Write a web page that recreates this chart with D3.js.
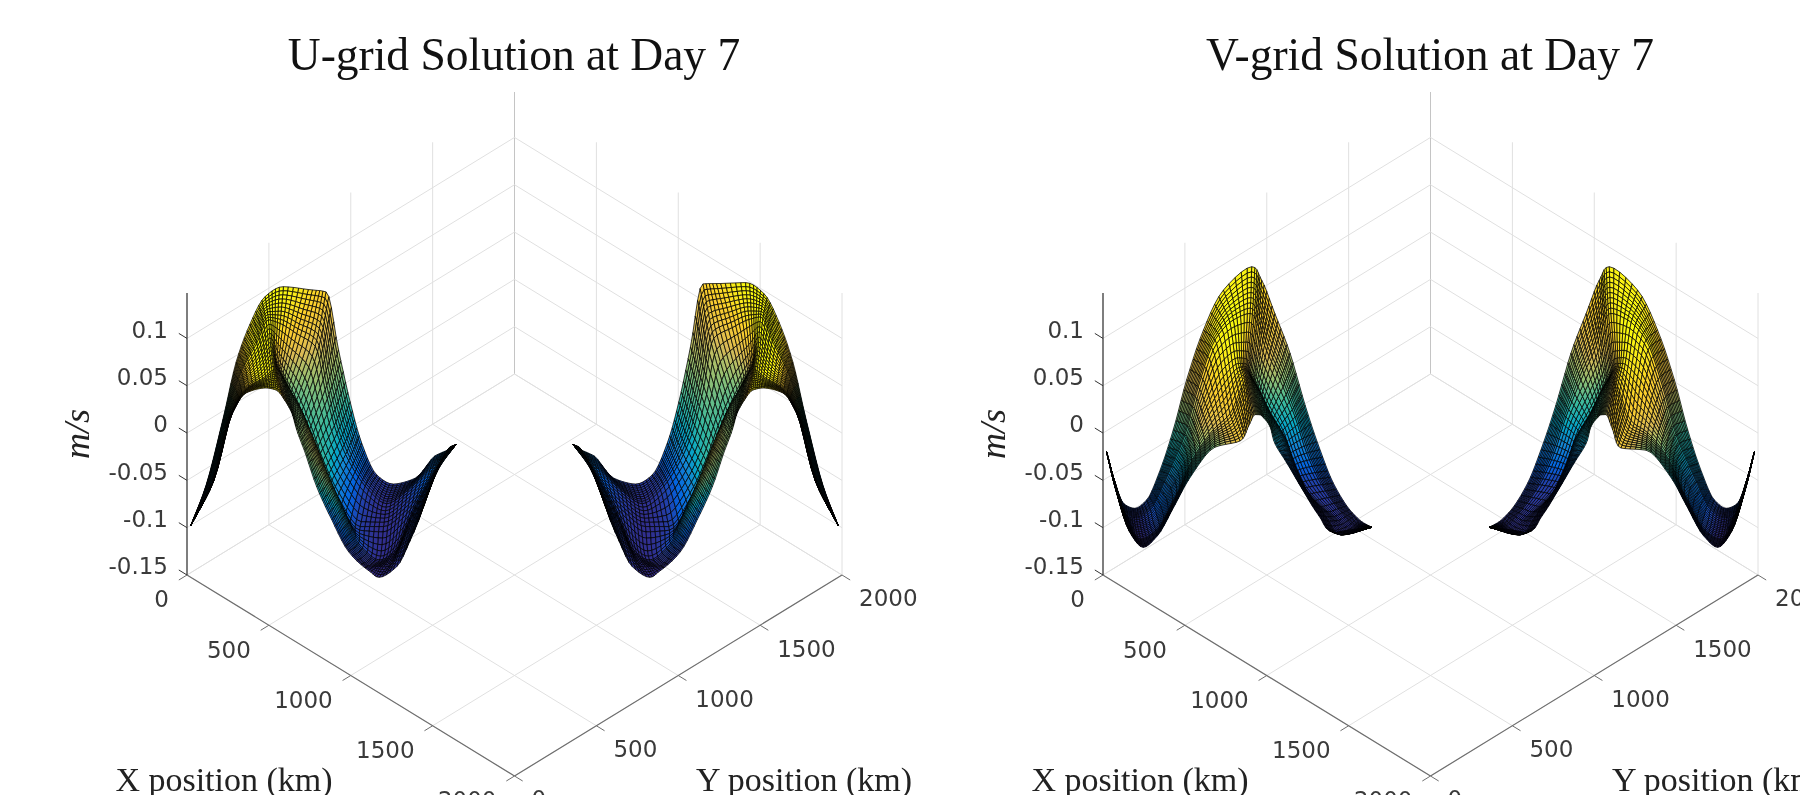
<!DOCTYPE html>
<html>
<head>
<meta charset="utf-8">
<script src="https://cdn.jsdelivr.net/npm/d3@7"></script>
<style>
  body { margin: 0; background: #fff; overflow: hidden; }
  svg { display: block; filter: blur(0.45px); }
</style>
</head>
<body>
<script>
// tick values and labels
var planTicks = [0, 500, 1000, 1500, 2000];
var zTicks = [-0.15, -0.1, -0.05, 0, 0.05, 0.1];
var zTickLabels = ["-0.15", "-0.1", "-0.05", "0", "0.05", "0.1"];
var zLimits = [-0.15, 0.148];
var titles = ["U-grid Solution at Day 7", "V-grid Solution at Day 7"];

// parula colour stops
var parula = ["#352a87", "#0363e1", "#1485d4", "#06a7c6", "#38b99e", "#92bf73", "#d9ba56", "#fcce2e", "#f9fb0e"];

// surface knots. rows run along the lobe, columns across it.
// along = x + y (km), across = x - y (km), z in m/s.
// The mesh between the knots is only a smooth rendering of them, the reference mesh is too fine to read cell by cell
var uAlong = [
  [23, 23, 23, 23, 23],
  [116, 131, 145, 157, 165],
  [218, 239, 253, 267, 279],
  [300, 334, 349, 357, 365],
  [385, 426, 446, 463, 477],
  [477, 497, 511, 528, 544],
  [589, 568, 548, 558, 600],
  [741, 670, 599, 619, 640],
  [849, 782, 670, 695, 670],
  [925, 843, 748, 772, 715],
  [996, 915, 823, 853, 792],
  [1067, 1006, 919, 945, 884],
  [1159, 1108, 1057, 1047, 986],
  [1261, 1220, 1200, 1175, 1108],
  [1393, 1352, 1322, 1271, 1175],
  [1515, 1485, 1444, 1352, 1281],
  [1586, 1566, 1525, 1475, 1383],
  [1607, 1597, 1576, 1556, 1536],
  [1643, 1643, 1643, 1643, 1643]
];
var uAcross = [
  [-10, -10, -10, -10, -10],
  [-54, -4, 42, 81, 121],
  [-279, -146, -16, 99, 125],
  [122, 362, 461, 528, 567],
  [168, 501, 700, 793, 861],
  [36, 269, 478, 682, 881],
  [-63, 106, 162, 13, 295],
  [-261, -20, -150, -101, 131],
  [-350, -167, -198, 42, 297],
  [-331, -157, -40, 677, 440],
  [-378, -231, 292, 812, 384],
  [-748, -572, -77, 443, -210],
  [-883, -734, -369, -90, -148],
  [-821, -671, -453, -121, -36],
  [-765, -705, -530, -207, 23],
  [-622, -596, -565, -369, -27],
  [-402, -419, -483, -509, -275],
  [-98, -122, -184, -246, -331],
  [-93, -93, -93, -93, -93]
];
var uZ = [
  [-0.099, -0.099, -0.099, -0.099, -0.099],
  [-0.061, -0.055, -0.049, -0.043, -0.037],
  [-0.016, -0.001, 0.014, 0.029, 0.035],
  [0.088, 0.103, 0.103, 0.103, 0.103],
  [0.133, 0.148, 0.148, 0.142, 0.139],
  [0.148, 0.148, 0.142, 0.139, 0.139],
  [0.148, 0.127, 0.094, 0.065, 0.065],
  [0.124, 0.103, 0.044, 0.035, 0.035],
  [0.112, 0.074, 0.014, 0.029, 0.035],
  [0.053, 0.029, -0.001, 0.065, 0.029],
  [-0.007, -0.025, -0.001, 0.044, -0.016],
  [-0.09, -0.096, -0.075, -0.031, -0.114],
  [-0.138, -0.138, -0.138, -0.126, -0.141],
  [-0.141, -0.146, -0.147, -0.147, -0.149],
  [-0.129, -0.135, -0.141, -0.146, -0.15],
  [-0.09, -0.102, -0.12, -0.138, -0.144],
  [-0.061, -0.07, -0.09, -0.114, -0.135],
  [-0.025, -0.031, -0.043, -0.055, -0.073],
  [-0.022, -0.022, -0.022, -0.022, -0.022]
];
// right lobes are close to mirror images of the left ones, these are the across offsets (km) read where they differ
var uRightTop = [0, 0, 0, 0, -20, -30, -40, -60, -80, -30, 0, 0, 0, 0, 0, 0, 0, 0, 0];
var uRightBottom = [0, 0, 0, 0, 0, 0, 0, 0, 0, 0, 0, 0, 0, 0, 0, 0, 0, 0, 0];

var vAlong = [
  [22, 22, 22, 22, 22],
  [67, 71, 73, 75, 79],
  [128, 134, 140, 148, 161],
  [195, 205, 216, 230, 246],
  [267, 291, 307, 324, 332],
  [348, 399, 440, 450, 440],
  [429, 501, 531, 541, 541],
  [511, 582, 633, 674, 684],
  [613, 684, 735, 776, 837],
  [735, 796, 826, 857, 887],
  [908, 898, 873, 887, 928],
  [969, 949, 908, 922, 959],
  [1050, 999, 949, 969, 983],
  [1142, 1081, 1010, 1030, 1020],
  [1234, 1173, 1091, 1111, 1050],
  [1325, 1244, 1152, 1173, 1122],
  [1407, 1335, 1234, 1254, 1213],
  [1508, 1458, 1407, 1366, 1315],
  [1580, 1549, 1508, 1458, 1407],
  [1641, 1641, 1641, 1641, 1641]
];
var vAcross = [
  [-48, -48, -48, -48, -48],
  [-503, -504, -506, -507, -502],
  [-482, -490, -468, -437, -375],
  [-551, -508, -436, -351, -275],
  [-522, -451, -363, -308, -276],
  [-203, -226, -243, -252, -276],
  [-40, 66, 266, 259, 184],
  [165, 315, 626, 577, 414],
  [31, 384, 608, 776, 992],
  [-114, 269, 560, 618, 909],
  [-318, 6, 83, 46, 372],
  [-353, -86, -155, -151, 92],
  [-219, -50, -331, -316, -16],
  [-298, -200, -339, -312, -73],
  [-429, -396, -472, -434, -328],
  [-683, -650, -667, -629, -550],
  [-744, -756, -750, -701, -694],
  [-563, -558, -524, -524, -541],
  [-475, -439, -403, -370, -403],
  [-390, -390, -390, -390, -390]
];
var vZ = [
  [-0.025, -0.025, -0.025, -0.025, -0.025],
  [-0.102, -0.105, -0.108, -0.111, -0.114],
  [-0.126, -0.135, -0.138, -0.141, -0.144],
  [-0.138, -0.144, -0.147, -0.149, -0.15],
  [-0.126, -0.129, -0.132, -0.135, -0.138],
  [-0.061, -0.067, -0.075, -0.09, -0.105],
  [-0.001, 0.005, 0.014, -0.001, -0.025],
  [0.074, 0.082, 0.094, 0.065, 0.029],
  [0.112, 0.139, 0.124, 0.103, 0.097],
  [0.139, 0.148, 0.133, 0.118, 0.103],
  [0.142, 0.127, 0.082, 0.065, 0.059],
  [0.124, 0.103, 0.047, 0.035, 0.029],
  [0.103, 0.082, 0.014, 0.005, 0.014],
  [0.053, 0.035, -0.01, -0.016, -0.001],
  [-0.016, -0.025, -0.049, -0.052, -0.046],
  [-0.09, -0.09, -0.099, -0.102, -0.09],
  [-0.132, -0.135, -0.138, -0.138, -0.132],
  [-0.141, -0.144, -0.144, -0.144, -0.144],
  [-0.144, -0.146, -0.147, -0.147, -0.147],
  [-0.141, -0.141, -0.141, -0.141, -0.141]
];
var vRightTop = [0, 0, 0, 0, 0, 0, 0, 0, 0, 0, 0, 0, 0, 0, 0, 0, 0, 0, 0, 0];
var vRightBottom = [0, 0, 0, 0, 0, 0, 0, 30, 70, 30, 0, 0, 0, 0, 0, 0, 0, 0, 0, 0];

var width = 1800;
var height = 795;
var panelShift = 916;

var svg = d3.select("body").append("svg").attr("width", width).attr("height", height);

// scales of the oblique view
var alongScale = d3.scaleLinear().domain([0, 4000]).range([187, 842]);
var acrossScale = d3.scaleLinear().domain([-2000, 2000]).range([374, 776]);
var zScale = d3.scaleLinear().domain(zLimits).range([0, -282]);
var colorScale = d3
  .scaleLinear()
  .domain(d3.range(parula.length).map((i) => zLimits[0] + ((zLimits[1] - zLimits[0]) * i) / (parula.length - 1)))
  .range(parula)
  .clamp(true);

function project(x, y, z) {
  return [alongScale(x + y), acrossScale(x - y) + zScale(z)];
}

// cubic hermite through a knot row, steps[k] pieces per interval
// monotone stops overshoot at corners, plain catmull-rom is used where that does not matter
function smoothRow(values, steps, monotone) {
  var n = values.length;
  var slope = d3.range(n).map((k) => {
    if (k === 0) return values[1] - values[0];
    if (k === n - 1) return values[n - 1] - values[n - 2];
    var d0 = values[k] - values[k - 1];
    var d1 = values[k + 1] - values[k];
    if (monotone) return d0 * d1 <= 0 ? 0 : (2 * d0 * d1) / (d0 + d1);
    return (d0 + d1) / 2;
  });
  var out = [];
  for (var k = 0; k < n - 1; k++) {
    var p1 = values[k];
    var p2 = values[k + 1];
    for (var s = 0; s < steps[k]; s++) {
      var t = s / steps[k];
      var t2 = t * t;
      var t3 = t2 * t;
      out.push(
        (2 * t3 - 3 * t2 + 1) * p1 +
          (t3 - 2 * t2 + t) * slope[k] +
          (-2 * t3 + 3 * t2) * p2 +
          (t3 - t2) * slope[k + 1]
      );
    }
  }
  out.push(values[n - 1]);
  return out;
}

var acrossSteps = [9, 6, 6, 10];
var alongPieces = 5;

function refine(table, monotone) {
  var alongSteps = table.map(() => alongPieces);
  var rows = table.map((row) => smoothRow(row, acrossSteps, monotone));
  var cols = d3.transpose(rows).map((col) => smoothRow(col, alongSteps, monotone));
  return d3.transpose(cols);
}

function drawLobe(g, alongTable, acrossTable, zTable, mirrored, topShift, bottomShift) {
  var sxKnots = alongTable.map((row) => row.map((v) => alongScale(mirrored ? 4000 - v : v)));
  var syKnots = acrossTable.map((row, i) =>
    row.map((v, j) => {
      var nudge = 0;
      if (j < 2) nudge = topShift[i];
      if (j > 2) nudge = bottomShift[i];
      return acrossScale(v + nudge) + zScale(zTable[i][j]);
    })
  );
  var sx = refine(sxKnots, false);
  var sy = refine(syKnots, true);
  var e = refine(acrossTable, true);
  var z = refine(zTable, true);
  var cells = [];
  for (var i = 0; i < sx.length - 1; i++) {
    for (var j = 0; j < sx[0].length - 1; j++) {
      var corners = [[i, j], [i + 1, j], [i + 1, j + 1], [i, j + 1]];
      cells.push({
        pts: corners.map((c) => [sx[c[0]][c[1]].toFixed(1), sy[c[0]][c[1]].toFixed(1)]),
        depth: d3.mean(corners, (c) => e[c[0]][c[1]]),
        value: d3.mean(corners, (c) => z[c[0]][c[1]])
      });
    }
  }
  cells.sort((p, q) => p.depth - q.depth);
  g.append("g")
    .selectAll("path")
    .data(cells)
    .enter()
    .append("path")
    .attr("d", (d) => "M" + d.pts.join("L") + "Z")
    .attr("fill", (d) => colorScale(d.value))
    .attr("stroke", "#000")
    .attr("stroke-width", 0.75);
}

function line(g, p, q, color, w) {
  g.append("line")
    .attr("x1", p[0])
    .attr("y1", p[1])
    .attr("x2", q[0])
    .attr("y2", q[1])
    .attr("stroke", color)
    .attr("stroke-width", w);
}

function drawPanel(shift, title, along, across, z, rightTop, rightBottom) {
  var g = svg.append("g").attr("transform", "translate(" + shift + ",0)");
  var gridColor = "#e0e0e0";
  var zTop = zLimits[1];
  var zBottom = zLimits[0];
  var noShift = along.map(() => 0);

  // floor and wall grid
  planTicks.forEach((t) => {
    line(g, project(t, 0, zBottom), project(t, 2000, zBottom), gridColor, 1);
    line(g, project(0, t, zBottom), project(2000, t, zBottom), gridColor, 1);
    line(g, project(0, t, zBottom), project(0, t, zTop), t === 2000 ? "#c4c4c4" : gridColor, 1);
    if (t > 0) line(g, project(t, 2000, zBottom), project(t, 2000, zTop), gridColor, 1);
  });
  zTicks.forEach((t) => {
    line(g, project(0, 0, t), project(0, 2000, t), gridColor, 1);
    line(g, project(0, 2000, t), project(2000, 2000, t), gridColor, 1);
  });

  // the two lobes
  drawLobe(g, along, across, z, false, noShift, noShift);
  drawLobe(g, along, across, z, true, rightTop, rightBottom);

  // axes
  var axisColor = "#6e6e6e";
  line(g, project(0, 0, zBottom), project(2000, 0, zBottom), axisColor, 1.2);
  line(g, project(2000, 0, zBottom), project(2000, 2000, zBottom), axisColor, 1.2);
  line(g, project(0, 0, zBottom), project(0, 0, zTop), "#333", 1.2);

  var tickKm = 50;
  planTicks.forEach((t, i) => {
    var px = project(t, 0, zBottom);
    line(g, px, project(t, -tickKm, zBottom), axisColor, 1);
    g.append("text")
      .attr("class", "tick")
      .attr("x", px[0] - 18)
      .attr("y", px[1] + 24)
      .attr("dy", "0.36em")
      .attr("text-anchor", "end")
      .text(t);
    var py = project(2000, t, zBottom);
    line(g, py, project(2000 + tickKm, t, zBottom), axisColor, 1);
    g.append("text")
      .attr("class", "tick")
      .attr("x", py[0] + 17)
      .attr("y", py[1] + 23)
      .attr("dy", "0.36em")
      .attr("text-anchor", "start")
      .text(t);
  });
  zTicks.forEach((t, i) => {
    var p = project(0, 0, t);
    line(g, p, project(-tickKm, 0, t), "#333", 1);
    g.append("text")
      .attr("class", "tick")
      .attr("x", p[0] - 19)
      .attr("y", p[1] - 9)
      .attr("dy", "0.36em")
      .attr("text-anchor", "end")
      .text(zTickLabels[i]);
  });
  g.selectAll("text.tick")
    .attr("font-family", "'DejaVu Sans', sans-serif")
    .attr("font-size", 23)
    .attr("fill", "#3a3a3a");

  // title and axis labels
  var serif = "'Liberation Serif', serif";
  g.append("text")
    .attr("x", 514)
    .attr("y", 70)
    .attr("text-anchor", "middle")
    .attr("font-family", serif)
    .attr("font-size", 45.5)
    .attr("fill", "#111")
    .text(title);
  g.append("text")
    .attr("x", 224)
    .attr("y", 791)
    .attr("text-anchor", "middle")
    .attr("font-family", serif)
    .attr("font-size", 34)
    .attr("fill", "#222")
    .text("X position (km)");
  g.append("text")
    .attr("x", 804)
    .attr("y", 791)
    .attr("text-anchor", "middle")
    .attr("font-family", serif)
    .attr("font-size", 34)
    .attr("fill", "#222")
    .text("Y position (km)");
  g.append("text")
    .attr("transform", "translate(89,434) rotate(-90)")
    .attr("text-anchor", "middle")
    .attr("font-family", serif)
    .attr("font-style", "italic")
    .attr("font-size", 36)
    .attr("fill", "#222")
    .text("m/s");
}

drawPanel(0, titles[0], uAlong, uAcross, uZ, uRightTop, uRightBottom);
drawPanel(panelShift, titles[1], vAlong, vAcross, vZ, vRightTop, vRightBottom);
</script>
</body>
</html>
